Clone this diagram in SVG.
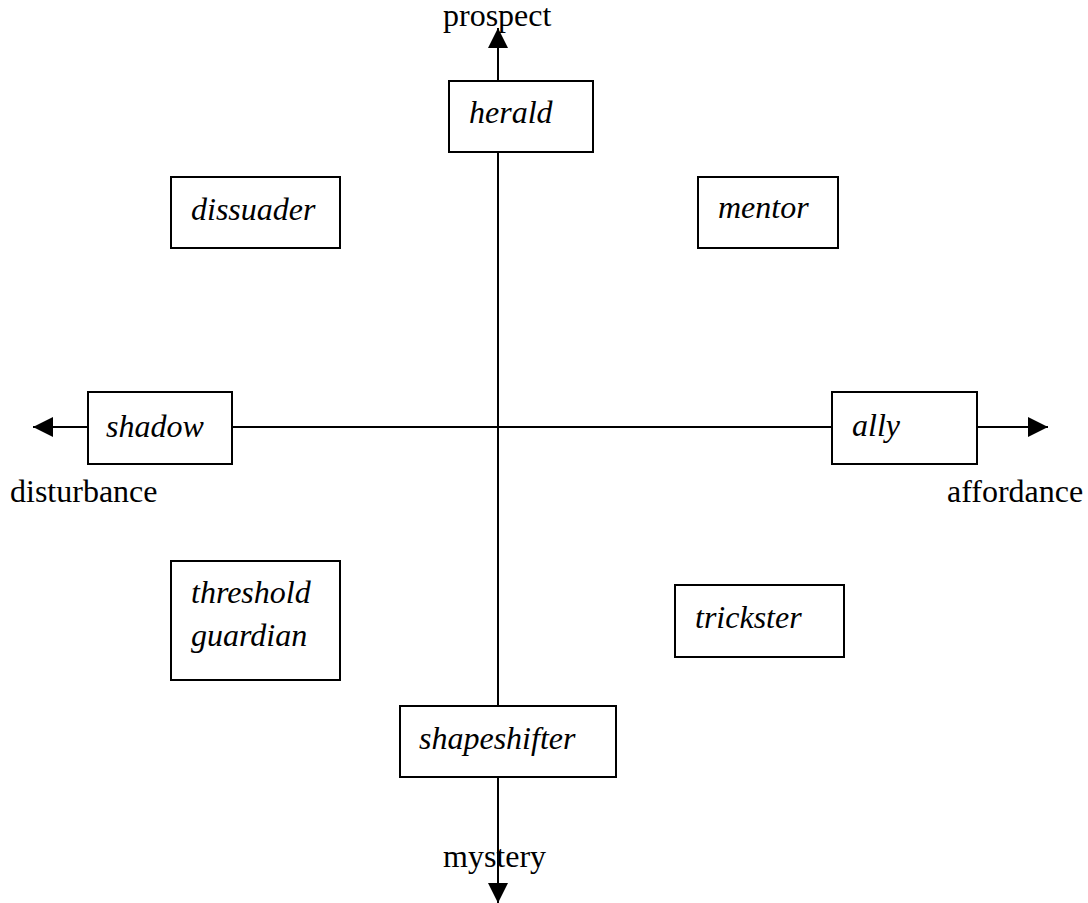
<svg xmlns="http://www.w3.org/2000/svg" width="1088" height="903" viewBox="0 0 1088 903">
<style>
.box{fill:#fff;stroke:#000;stroke-width:2}
.lbl{font-family:"Liberation Serif","Times New Roman",serif;font-size:32px;font-style:italic;fill:#000}
.ax{font-family:"Liberation Serif","Times New Roman",serif;font-size:32px;fill:#000}
.line{stroke:#000;stroke-width:2;fill:none}
</style>
<defs>
<marker id="arr" markerWidth="20" markerHeight="20" refX="20" refY="10" orient="auto" markerUnits="userSpaceOnUse">
<path d="M0,0 L20,10 L0,20 Z" fill="#000"/>
</marker>
</defs>
<rect width="1088" height="903" fill="#fff"/>
<g id="connectors">
<line class="line" x1="498" y1="427" x2="498" y2="28" marker-end="url(#arr)"/>
<line class="line" x1="498" y1="427" x2="498" y2="903" marker-end="url(#arr)"/>
<line class="line" x1="498" y1="427" x2="33" y2="427" marker-end="url(#arr)"/>
<line class="line" x1="498" y1="427" x2="1048" y2="427" marker-end="url(#arr)"/>
</g>
<g id="axis-labels">
<text class="ax" x="443" y="26">prospect</text>
<text class="ax" x="443" y="867">mystery</text>
<text class="ax" x="10" y="502">disturbance</text>
<text class="ax" x="947" y="502">affordance</text>
</g>
<g id="herald"><rect class="box" x="449" y="81" width="144" height="71"/><text class="lbl" x="469" y="123">herald</text></g>
<g id="dissuader"><rect class="box" x="171" y="177" width="169" height="71"/><text class="lbl" x="191" y="220">dissuader</text></g>
<g id="mentor"><rect class="box" x="698" y="177" width="140" height="71"/><text class="lbl" x="718" y="218">mentor</text></g>
<g id="shadow"><rect class="box" x="88" y="392" width="144" height="72"/><text class="lbl" x="106" y="437">shadow</text></g>
<g id="ally"><rect class="box" x="832" y="392" width="145" height="72"/><text class="lbl" x="852" y="436">ally</text></g>
<g id="threshold-guardian"><rect class="box" x="171" y="561" width="169" height="119"/><text class="lbl" x="191" y="603">threshold</text><text class="lbl" x="191" y="646">guardian</text></g>
<g id="trickster"><rect class="box" x="675" y="585" width="169" height="72"/><text class="lbl" x="695" y="628">trickster</text></g>
<g id="shapeshifter"><rect class="box" x="400" y="706" width="216" height="71"/><text class="lbl" x="419" y="749">shapeshifter</text></g>
</svg>
